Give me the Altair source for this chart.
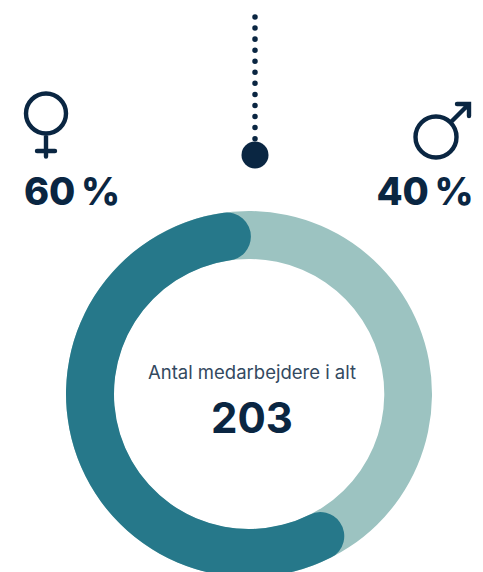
import altair as alt
import pandas as pd
import math

genders = ["Mænd", "Kvinder"]
shares = [40, 60]
labels = ["40\u2009%", "60\u2009%"]
total_label = "Antal medarbejdere i alt"
total_value = "203"

NAVY = "#0a2642"
TEAL = "#26788a"
LIGHT = "#9cc3c1"
W, H = 467, 564
CX, CY = 241, 386

starts = [0, shares[0]]
ends = [shares[0], shares[0] + shares[1]]
df = pd.DataFrame({"gender": genders, "share": shares, "start": starts, "end": ends})
track = pd.DataFrame({"start": [min(starts)], "end": [max(ends)]})
theta_scale = alt.Scale(domain=[0, 100], range=[0.012, 2 * math.pi + 0.012])


def ring(frame, colour, **kw):
    return alt.Chart(frame).mark_arc(
        radius=183, radius2=135, fill=colour, clip=True, **kw
    ).encode(
        theta=alt.Theta("start:Q", scale=theta_scale),
        theta2="end:Q",
        x=alt.value(CX),
        y=alt.value(CY),
    )


one = pd.DataFrame({"a": [0]})


def text(label, x, y, size, weight=800, colour=NAVY, font="Inter", align="center"):
    return alt.Chart(one).mark_text(
        text=label, fontSize=size, fontWeight=weight, font=font, color=colour,
        align=align, baseline="alphabetic",
    ).encode(x=alt.value(x), y=alt.value(y))


def glyph(path, x, y):
    return alt.Chart(one).mark_point(
        shape=path, size=4, stroke=NAVY, strokeWidth=4.4, strokeCap="round",
        strokeJoin="miter", fill=None, filled=False, opacity=1,
    ).encode(x=alt.value(x), y=alt.value(y))


female = ("M-20,0 A20,20 0 1,1 20,0 A20,20 0 1,1 -20,0 Z "
          "M0,20 L0,43 M-9,37.5 L9,37.5")
male = ("M-20.5,0 A20.5,20.5 0 1,1 20.5,0 A20.5,20.5 0 1,1 -20.5,0 Z "
        "M15,-15 L32,-32 M21,-33 L33,-33 L33,-21")

stem = alt.Chart(one).mark_rule(
    color=NAVY, strokeWidth=5.5, strokeCap="round", strokeDash=[0.01, 11.05]
).encode(x=alt.value(247), y=alt.value(9), y2=alt.value(131))
dot = alt.Chart(one).mark_point(
    filled=True, color=NAVY, size=(13.5 * 2) ** 2, shape="circle", opacity=1
).encode(x=alt.value(247), y=alt.value(147))

chart = alt.layer(
    ring(track, LIGHT),
    ring(df[df.gender == "Kvinder"], TEAL, cornerRadius=24),
    stem,
    dot,
    glyph(female, 38, 105.5),
    glyph(male, 428, 129),
    text(labels[1], 64, 197, 38),
    text(labels[0], 417, 197, 38),
    text(total_label, 244, 371, 18.5, weight="normal", colour="#33495f"),
    text(total_value, 244, 425, 42, weight=700),
).properties(
    width=W, height=H, padding=0, autosize=alt.AutoSizeParams(type="none")
).configure_view(stroke=None)

chart.save("out.html", embed_options={"renderer": "svg", "actions": False})
